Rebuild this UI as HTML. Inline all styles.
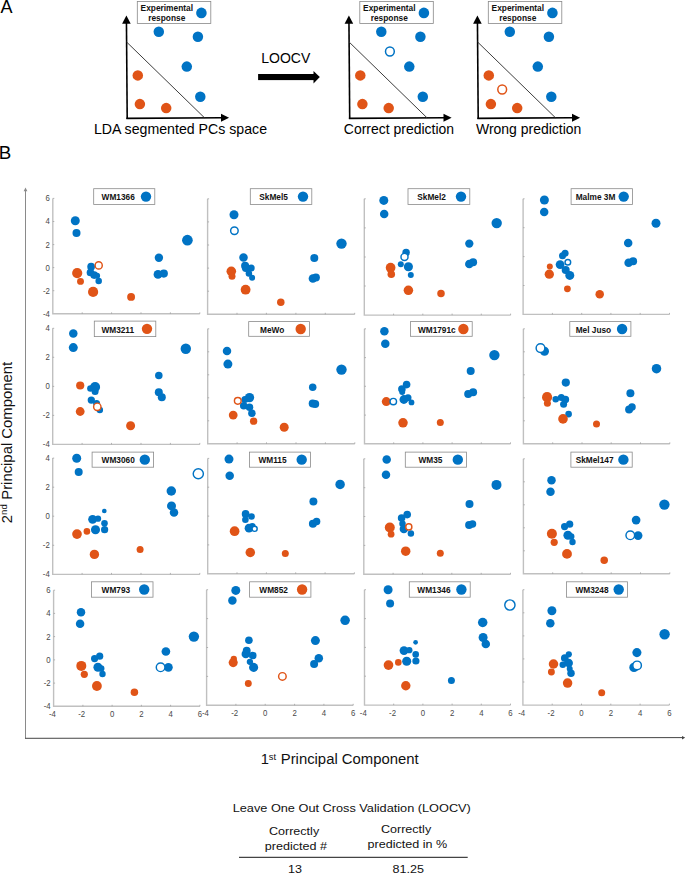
<!DOCTYPE html>
<html><head><meta charset="utf-8"><style>
html,body{margin:0;padding:0;background:#fff;}
svg{display:block;font-family:"Liberation Sans", sans-serif;}
</style></head><body>
<svg width="685" height="874" viewBox="0 0 685 874">
<rect width="685" height="874" fill="#fff"/>
<text transform="translate(0.5,13.3)" font-size="18" text-anchor="start" fill="#000">A</text>
<line x1="127.2" y1="119.1" x2="126.45" y2="22.5" stroke="#000" stroke-width="1.6"/>
<polygon points="122.1,23.7 130.7,23.7 126.4,15.4" fill="#000"/>
<line x1="126.4" y1="118.35" x2="222" y2="117.8" stroke="#000" stroke-width="1.6"/>
<polygon points="221.0,113.8 221.0,121.7 229.1,117.7" fill="#000"/>
<line x1="126.6" y1="42.0" x2="204.6" y2="117.9" stroke="#333" stroke-width="0.95"/>
<rect x="137.3" y="1.5" width="73.5" height="22" fill="#fff" stroke="#888" stroke-width="0.8"/>
<text x="166.8" y="11.2" font-size="8.35" font-weight="bold" text-anchor="middle" fill="#111">Experimental</text>
<text x="166.8" y="20.6" font-size="8.35" font-weight="bold" text-anchor="middle" fill="#111">response</text>
<circle cx="201.4" cy="12.9" r="5.30" fill="#0073C4"/>
<circle cx="158.8" cy="31.7" r="5.25" fill="#0073C4"/>
<circle cx="197.9" cy="36.8" r="5.25" fill="#0073C4"/>
<circle cx="186.8" cy="66.6" r="5.25" fill="#0073C4"/>
<circle cx="200.3" cy="96.7" r="5.25" fill="#0073C4"/>
<circle cx="137.8" cy="75.4" r="5.25" fill="#E05417"/>
<circle cx="139.9" cy="104.1" r="5.25" fill="#E05417"/>
<circle cx="166.2" cy="108.1" r="5.25" fill="#E05417"/>
<line x1="349.7" y1="119.1" x2="348.95" y2="22.5" stroke="#000" stroke-width="1.6"/>
<polygon points="344.6,23.7 353.2,23.7 348.9,15.4" fill="#000"/>
<line x1="348.9" y1="118.35" x2="444.5" y2="117.8" stroke="#000" stroke-width="1.6"/>
<polygon points="443.5,113.8 443.5,121.7 451.6,117.7" fill="#000"/>
<line x1="349.1" y1="42.0" x2="427.1" y2="117.9" stroke="#333" stroke-width="0.95"/>
<rect x="359.8" y="1.5" width="73.5" height="22" fill="#fff" stroke="#888" stroke-width="0.8"/>
<text x="389.3" y="11.2" font-size="8.35" font-weight="bold" text-anchor="middle" fill="#111">Experimental</text>
<text x="389.3" y="20.6" font-size="8.35" font-weight="bold" text-anchor="middle" fill="#111">response</text>
<circle cx="423.9" cy="12.9" r="5.30" fill="#0073C4"/>
<circle cx="381.3" cy="31.7" r="5.25" fill="#0073C4"/>
<circle cx="420.4" cy="36.8" r="5.25" fill="#0073C4"/>
<circle cx="409.3" cy="66.6" r="5.25" fill="#0073C4"/>
<circle cx="422.8" cy="96.7" r="5.25" fill="#0073C4"/>
<circle cx="360.3" cy="75.4" r="5.25" fill="#E05417"/>
<circle cx="362.4" cy="104.1" r="5.25" fill="#E05417"/>
<circle cx="388.7" cy="108.1" r="5.25" fill="#E05417"/>
<circle cx="389.9" cy="51.5" r="4.40" fill="#fff" stroke="#0073C4" stroke-width="1.5"/>
<line x1="478.2" y1="119.1" x2="477.45" y2="22.5" stroke="#000" stroke-width="1.6"/>
<polygon points="473.1,23.7 481.7,23.7 477.4,15.4" fill="#000"/>
<line x1="477.4" y1="118.35" x2="573.0" y2="117.8" stroke="#000" stroke-width="1.6"/>
<polygon points="572.0,113.8 572.0,121.7 580.1,117.7" fill="#000"/>
<line x1="477.6" y1="42.0" x2="555.6" y2="117.9" stroke="#333" stroke-width="0.95"/>
<rect x="488.3" y="1.5" width="73.5" height="22" fill="#fff" stroke="#888" stroke-width="0.8"/>
<text x="517.8" y="11.2" font-size="8.35" font-weight="bold" text-anchor="middle" fill="#111">Experimental</text>
<text x="517.8" y="20.6" font-size="8.35" font-weight="bold" text-anchor="middle" fill="#111">response</text>
<circle cx="552.4" cy="12.9" r="5.30" fill="#0073C4"/>
<circle cx="509.8" cy="31.7" r="5.25" fill="#0073C4"/>
<circle cx="548.9" cy="36.8" r="5.25" fill="#0073C4"/>
<circle cx="537.8" cy="66.6" r="5.25" fill="#0073C4"/>
<circle cx="551.3" cy="96.7" r="5.25" fill="#0073C4"/>
<circle cx="488.8" cy="75.4" r="5.25" fill="#E05417"/>
<circle cx="490.9" cy="104.1" r="5.25" fill="#E05417"/>
<circle cx="517.2" cy="108.1" r="5.25" fill="#E05417"/>
<circle cx="502.2" cy="89.5" r="4.40" fill="#fff" stroke="#E05417" stroke-width="1.5"/>
<text transform="translate(180.45,133.9) scale(1.027,1)" font-size="13.8" text-anchor="middle" fill="#000">LDA segmented PCs space</text>
<text transform="translate(398.95,133.9) scale(1.013,1)" font-size="13.8" text-anchor="middle" fill="#000">Correct prediction</text>
<text transform="translate(528.65,133.9) scale(1.012,1)" font-size="13.8" text-anchor="middle" fill="#000">Wrong prediction</text>
<text transform="translate(285.7,63.1)" font-size="14" text-anchor="middle" fill="#000">LOOCV</text>
<rect x="258.1" y="74" width="56" height="6.1" fill="#000"/>
<polygon points="313.5,71.1 313.5,83.4 319.8,77.05" fill="#000"/>
<text transform="translate(-1.2,158.9)" font-size="18.8" text-anchor="start" fill="#000">B</text>
<line x1="25.5" y1="190" x2="25.5" y2="738.3" stroke="#8a8a8a" stroke-width="1"/>
<polygon points="23.6,191.2 27.4,191.2 25.5,187.6" fill="#8a8a8a"/>
<line x1="25" y1="738.3" x2="683" y2="737.6" stroke="#444" stroke-width="1"/>
<polygon points="682,735.9 682,739.5 685.2,737.7" fill="#444"/>
<text transform="translate(260.6975,764.4)" font-size="14.7" text-anchor="start" fill="#111">1</text>
<text transform="translate(268.821,759.9)" font-size="9.3" text-anchor="start" fill="#111">st</text>
<text transform="translate(280.724,764.4) scale(1.012,1)" font-size="14.7" text-anchor="start" fill="#111">Principal Component</text>
<text transform="translate(11.7,523.135) rotate(-90)" font-size="14.7" text-anchor="start" fill="#111">2</text>
<text transform="translate(6.9,514.924) rotate(-90)" font-size="9.6" text-anchor="start" fill="#111">nd</text>
<text transform="translate(11.7,499.776) rotate(-90) scale(1.012,1)" font-size="14.7" text-anchor="start" fill="#111">Principal Component</text>
<path d="M52.8,198.4 V313.8 H199.8" fill="none" stroke="#c0c0c0" stroke-width="1.4"/>
<line x1="82.2" y1="313.8" x2="82.2" y2="312.3" stroke="#999" stroke-width="0.7"/>
<line x1="111.6" y1="313.8" x2="111.6" y2="312.3" stroke="#999" stroke-width="0.7"/>
<line x1="141.0" y1="313.8" x2="141.0" y2="312.3" stroke="#999" stroke-width="0.7"/>
<line x1="170.4" y1="313.8" x2="170.4" y2="312.3" stroke="#999" stroke-width="0.7"/>
<line x1="199.8" y1="313.8" x2="199.8" y2="312.3" stroke="#999" stroke-width="0.7"/>
<line x1="52.8" y1="198.4" x2="54.3" y2="198.4" stroke="#999" stroke-width="0.7"/>
<line x1="52.8" y1="221.5" x2="54.3" y2="221.5" stroke="#999" stroke-width="0.7"/>
<line x1="52.8" y1="244.6" x2="54.3" y2="244.6" stroke="#999" stroke-width="0.7"/>
<line x1="52.8" y1="267.6" x2="54.3" y2="267.6" stroke="#999" stroke-width="0.7"/>
<line x1="52.8" y1="290.7" x2="54.3" y2="290.7" stroke="#999" stroke-width="0.7"/>
<text transform="translate(49.9,201.4) scale(0.92,1)" font-size="8.5" text-anchor="end" fill="#484848">6</text>
<text transform="translate(49.9,224.48) scale(0.92,1)" font-size="8.5" text-anchor="end" fill="#484848">4</text>
<text transform="translate(49.9,247.56) scale(0.92,1)" font-size="8.5" text-anchor="end" fill="#484848">2</text>
<text transform="translate(49.9,270.64) scale(0.92,1)" font-size="8.5" text-anchor="end" fill="#484848">0</text>
<text transform="translate(49.9,293.72) scale(0.92,1)" font-size="8.5" text-anchor="end" fill="#484848">-2</text>
<text transform="translate(49.9,316.8) scale(0.92,1)" font-size="8.5" text-anchor="end" fill="#484848">-4</text>
<circle cx="77.2" cy="273.1" r="5.10" fill="#E05417"/>
<circle cx="80.5" cy="281.4" r="3.45" fill="#E05417"/>
<circle cx="93.1" cy="291.9" r="5.10" fill="#E05417"/>
<circle cx="131.1" cy="296.9" r="3.95" fill="#E05417"/>
<circle cx="75.3" cy="220.8" r="4.50" fill="#0073C4"/>
<circle cx="76.5" cy="233" r="4.00" fill="#0073C4"/>
<circle cx="187.4" cy="240.2" r="5.35" fill="#0073C4"/>
<circle cx="158.9" cy="257.7" r="4.20" fill="#0073C4"/>
<circle cx="158" cy="274.4" r="4.40" fill="#0073C4"/>
<circle cx="163.8" cy="273.6" r="4.10" fill="#0073C4"/>
<circle cx="91.1" cy="266.7" r="3.85" fill="#0073C4"/>
<circle cx="90.5" cy="272.5" r="3.85" fill="#0073C4"/>
<circle cx="94.2" cy="275.1" r="3.85" fill="#0073C4"/>
<circle cx="97.1" cy="275.8" r="3.00" fill="#0073C4"/>
<circle cx="98.7" cy="281.1" r="3.25" fill="#0073C4"/>
<circle cx="98.7" cy="265.4" r="3.57" fill="#fff" stroke="#E05417" stroke-width="1.45"/>
<rect x="93.7" y="188.7" width="61.1" height="15.8" fill="#fff" stroke="#8a8a8a" stroke-width="0.8"/>
<text x="101.6" y="200.1" font-size="8.3" font-weight="bold" fill="#111">WM1366</text>
<circle cx="146.0" cy="196.6" r="5.20" fill="#0073C4"/>
<path d="M207.6,198.8 V314.3 H354.7" fill="none" stroke="#c0c0c0" stroke-width="1.4"/>
<line x1="237.0" y1="314.3" x2="237.0" y2="312.8" stroke="#999" stroke-width="0.7"/>
<line x1="266.4" y1="314.3" x2="266.4" y2="312.8" stroke="#999" stroke-width="0.7"/>
<line x1="295.9" y1="314.3" x2="295.9" y2="312.8" stroke="#999" stroke-width="0.7"/>
<line x1="325.3" y1="314.3" x2="325.3" y2="312.8" stroke="#999" stroke-width="0.7"/>
<line x1="354.7" y1="314.3" x2="354.7" y2="312.8" stroke="#999" stroke-width="0.7"/>
<line x1="207.6" y1="198.8" x2="209.1" y2="198.8" stroke="#999" stroke-width="0.7"/>
<line x1="207.6" y1="221.9" x2="209.1" y2="221.9" stroke="#999" stroke-width="0.7"/>
<line x1="207.6" y1="245.0" x2="209.1" y2="245.0" stroke="#999" stroke-width="0.7"/>
<line x1="207.6" y1="268.1" x2="209.1" y2="268.1" stroke="#999" stroke-width="0.7"/>
<line x1="207.6" y1="291.2" x2="209.1" y2="291.2" stroke="#999" stroke-width="0.7"/>
<circle cx="231.3" cy="271.3" r="4.80" fill="#E05417"/>
<circle cx="232" cy="276.2" r="3.50" fill="#E05417"/>
<circle cx="245.6" cy="289.7" r="4.90" fill="#E05417"/>
<circle cx="280.8" cy="302.3" r="3.75" fill="#E05417"/>
<circle cx="234" cy="214.7" r="4.50" fill="#0073C4"/>
<circle cx="341.5" cy="243.6" r="5.20" fill="#0073C4"/>
<circle cx="314.3" cy="258.1" r="4.00" fill="#0073C4"/>
<circle cx="312.9" cy="278.5" r="4.25" fill="#0073C4"/>
<circle cx="315.9" cy="277.4" r="4.00" fill="#0073C4"/>
<circle cx="243.5" cy="257.6" r="4.25" fill="#0073C4"/>
<circle cx="245.1" cy="265.7" r="4.00" fill="#0073C4"/>
<circle cx="245.9" cy="268.1" r="4.00" fill="#0073C4"/>
<circle cx="251.2" cy="268.1" r="3.50" fill="#0073C4"/>
<circle cx="248.9" cy="273.6" r="3.25" fill="#0073C4"/>
<circle cx="252.1" cy="277.7" r="3.00" fill="#0073C4"/>
<circle cx="234.4" cy="230.7" r="3.77" fill="#fff" stroke="#0073C4" stroke-width="1.45"/>
<rect x="250.3" y="188.7" width="61.5" height="15.8" fill="#fff" stroke="#8a8a8a" stroke-width="0.8"/>
<text x="259.3" y="200.1" font-size="8.3" font-weight="bold" fill="#111">SkMel5</text>
<circle cx="303.0" cy="196.6" r="5.20" fill="#0073C4"/>
<path d="M364.3,198.8 V315.1 H510.6" fill="none" stroke="#c0c0c0" stroke-width="1.4"/>
<line x1="393.6" y1="315.1" x2="393.6" y2="313.6" stroke="#999" stroke-width="0.7"/>
<line x1="422.8" y1="315.1" x2="422.8" y2="313.6" stroke="#999" stroke-width="0.7"/>
<line x1="452.1" y1="315.1" x2="452.1" y2="313.6" stroke="#999" stroke-width="0.7"/>
<line x1="481.3" y1="315.1" x2="481.3" y2="313.6" stroke="#999" stroke-width="0.7"/>
<line x1="510.6" y1="315.1" x2="510.6" y2="313.6" stroke="#999" stroke-width="0.7"/>
<line x1="364.3" y1="198.8" x2="365.8" y2="198.8" stroke="#999" stroke-width="0.7"/>
<line x1="364.3" y1="227.9" x2="365.8" y2="227.9" stroke="#999" stroke-width="0.7"/>
<line x1="364.3" y1="257.0" x2="365.8" y2="257.0" stroke="#999" stroke-width="0.7"/>
<line x1="364.3" y1="286.0" x2="365.8" y2="286.0" stroke="#999" stroke-width="0.7"/>
<circle cx="390.6" cy="267.7" r="4.85" fill="#E05417"/>
<circle cx="391.3" cy="274.3" r="3.75" fill="#E05417"/>
<circle cx="408.4" cy="290.3" r="4.75" fill="#E05417"/>
<circle cx="441" cy="293.4" r="3.75" fill="#E05417"/>
<circle cx="383.8" cy="200.4" r="4.50" fill="#0073C4"/>
<circle cx="384.2" cy="214" r="4.25" fill="#0073C4"/>
<circle cx="496.7" cy="223.1" r="5.20" fill="#0073C4"/>
<circle cx="469.3" cy="243.6" r="4.15" fill="#0073C4"/>
<circle cx="469.3" cy="264" r="4.25" fill="#0073C4"/>
<circle cx="473.1" cy="262.2" r="4.00" fill="#0073C4"/>
<circle cx="406.1" cy="252.6" r="3.75" fill="#0073C4"/>
<circle cx="400.8" cy="264.2" r="3.00" fill="#0073C4"/>
<circle cx="408.4" cy="266.7" r="4.55" fill="#0073C4"/>
<circle cx="410.8" cy="274.9" r="3.00" fill="#0073C4"/>
<circle cx="404.5" cy="256.9" r="3.52" fill="#fff" stroke="#0073C4" stroke-width="1.45"/>
<rect x="408" y="188.7" width="61.8" height="15.8" fill="#fff" stroke="#8a8a8a" stroke-width="0.8"/>
<text x="417.3" y="200.1" font-size="8.3" font-weight="bold" fill="#111">SkMel2</text>
<circle cx="461.0" cy="196.6" r="5.20" fill="#0073C4"/>
<path d="M523.1,198.8 V314.4 H669.5" fill="none" stroke="#c0c0c0" stroke-width="1.4"/>
<line x1="552.4" y1="314.4" x2="552.4" y2="312.9" stroke="#999" stroke-width="0.7"/>
<line x1="581.7" y1="314.4" x2="581.7" y2="312.9" stroke="#999" stroke-width="0.7"/>
<line x1="610.9" y1="314.4" x2="610.9" y2="312.9" stroke="#999" stroke-width="0.7"/>
<line x1="640.2" y1="314.4" x2="640.2" y2="312.9" stroke="#999" stroke-width="0.7"/>
<line x1="669.5" y1="314.4" x2="669.5" y2="312.9" stroke="#999" stroke-width="0.7"/>
<line x1="523.1" y1="198.8" x2="524.6" y2="198.8" stroke="#999" stroke-width="0.7"/>
<line x1="523.1" y1="227.7" x2="524.6" y2="227.7" stroke="#999" stroke-width="0.7"/>
<line x1="523.1" y1="256.6" x2="524.6" y2="256.6" stroke="#999" stroke-width="0.7"/>
<line x1="523.1" y1="285.5" x2="524.6" y2="285.5" stroke="#999" stroke-width="0.7"/>
<circle cx="549.8" cy="266.5" r="3.00" fill="#E05417"/>
<circle cx="549.3" cy="274.2" r="4.65" fill="#E05417"/>
<circle cx="567.4" cy="288.8" r="3.40" fill="#E05417"/>
<circle cx="599.7" cy="294.3" r="4.25" fill="#E05417"/>
<circle cx="544.4" cy="200" r="4.50" fill="#0073C4"/>
<circle cx="544.2" cy="212" r="4.25" fill="#0073C4"/>
<circle cx="656" cy="223.3" r="4.50" fill="#0073C4"/>
<circle cx="628.2" cy="243" r="4.25" fill="#0073C4"/>
<circle cx="628.6" cy="262.7" r="4.25" fill="#0073C4"/>
<circle cx="633.1" cy="261.3" r="4.00" fill="#0073C4"/>
<circle cx="565.1" cy="253.2" r="3.50" fill="#0073C4"/>
<circle cx="562.5" cy="255.8" r="3.50" fill="#0073C4"/>
<circle cx="560.1" cy="264.6" r="4.40" fill="#0073C4"/>
<circle cx="565.7" cy="270.1" r="4.00" fill="#0073C4"/>
<circle cx="569.8" cy="275.4" r="4.50" fill="#0073C4"/>
<circle cx="567.85" cy="262.25" r="2.82" fill="#fff" stroke="#0073C4" stroke-width="1.45"/>
<rect x="571.1" y="188.7" width="61.4" height="15.8" fill="#fff" stroke="#8a8a8a" stroke-width="0.8"/>
<text x="575.7" y="200.1" font-size="8.3" font-weight="bold" fill="#111">Malme 3M</text>
<circle cx="623.7" cy="196.6" r="5.20" fill="#0073C4"/>
<path d="M52.7,328.3 V444.4 H199.8" fill="none" stroke="#c0c0c0" stroke-width="1.4"/>
<line x1="82.1" y1="444.4" x2="82.1" y2="442.9" stroke="#999" stroke-width="0.7"/>
<line x1="111.5" y1="444.4" x2="111.5" y2="442.9" stroke="#999" stroke-width="0.7"/>
<line x1="141.0" y1="444.4" x2="141.0" y2="442.9" stroke="#999" stroke-width="0.7"/>
<line x1="170.4" y1="444.4" x2="170.4" y2="442.9" stroke="#999" stroke-width="0.7"/>
<line x1="199.8" y1="444.4" x2="199.8" y2="442.9" stroke="#999" stroke-width="0.7"/>
<line x1="52.7" y1="328.3" x2="54.2" y2="328.3" stroke="#999" stroke-width="0.7"/>
<line x1="52.7" y1="357.3" x2="54.2" y2="357.3" stroke="#999" stroke-width="0.7"/>
<line x1="52.7" y1="386.4" x2="54.2" y2="386.4" stroke="#999" stroke-width="0.7"/>
<line x1="52.7" y1="415.4" x2="54.2" y2="415.4" stroke="#999" stroke-width="0.7"/>
<text transform="translate(49.8,331.3) scale(0.92,1)" font-size="8.5" text-anchor="end" fill="#484848">4</text>
<text transform="translate(49.8,360.32) scale(0.92,1)" font-size="8.5" text-anchor="end" fill="#484848">2</text>
<text transform="translate(49.8,389.35) scale(0.92,1)" font-size="8.5" text-anchor="end" fill="#484848">0</text>
<text transform="translate(49.8,418.38) scale(0.92,1)" font-size="8.5" text-anchor="end" fill="#484848">-2</text>
<text transform="translate(49.8,447.4) scale(0.92,1)" font-size="8.5" text-anchor="end" fill="#484848">-4</text>
<circle cx="80.2" cy="385.5" r="4.10" fill="#E05417"/>
<circle cx="80.2" cy="411.5" r="4.40" fill="#E05417"/>
<circle cx="130.6" cy="425.7" r="4.50" fill="#E05417"/>
<circle cx="73.3" cy="333.6" r="4.25" fill="#0073C4"/>
<circle cx="73.3" cy="347.6" r="4.50" fill="#0073C4"/>
<circle cx="185.8" cy="348.8" r="5.20" fill="#0073C4"/>
<circle cx="158.8" cy="375.5" r="3.75" fill="#0073C4"/>
<circle cx="158.8" cy="392.2" r="4.00" fill="#0073C4"/>
<circle cx="161.8" cy="397.2" r="4.00" fill="#0073C4"/>
<circle cx="95.1" cy="387" r="5.00" fill="#0073C4"/>
<circle cx="90.4" cy="388.4" r="3.25" fill="#0073C4"/>
<circle cx="95.1" cy="391.4" r="3.50" fill="#0073C4"/>
<circle cx="91.3" cy="400.1" r="3.65" fill="#0073C4"/>
<circle cx="96.6" cy="403.6" r="3.50" fill="#0073C4"/>
<circle cx="99.8" cy="410" r="3.25" fill="#0073C4"/>
<circle cx="97.3" cy="406.8" r="3.68" fill="#fff" stroke="#E05417" stroke-width="1.45"/>
<rect x="94.3" y="321.1" width="61.5" height="15.5" fill="#fff" stroke="#8a8a8a" stroke-width="0.8"/>
<text x="101.4" y="332.6" font-size="8.3" font-weight="bold" fill="#111">WM3211</text>
<circle cx="147.0" cy="328.85" r="5.20" fill="#E05417"/>
<path d="M207.7,328.8 V443.8 H354.8" fill="none" stroke="#c0c0c0" stroke-width="1.4"/>
<line x1="237.1" y1="443.8" x2="237.1" y2="442.3" stroke="#999" stroke-width="0.7"/>
<line x1="266.5" y1="443.8" x2="266.5" y2="442.3" stroke="#999" stroke-width="0.7"/>
<line x1="296.0" y1="443.8" x2="296.0" y2="442.3" stroke="#999" stroke-width="0.7"/>
<line x1="325.4" y1="443.8" x2="325.4" y2="442.3" stroke="#999" stroke-width="0.7"/>
<line x1="354.8" y1="443.8" x2="354.8" y2="442.3" stroke="#999" stroke-width="0.7"/>
<line x1="207.7" y1="328.8" x2="209.2" y2="328.8" stroke="#999" stroke-width="0.7"/>
<line x1="207.7" y1="351.8" x2="209.2" y2="351.8" stroke="#999" stroke-width="0.7"/>
<line x1="207.7" y1="374.8" x2="209.2" y2="374.8" stroke="#999" stroke-width="0.7"/>
<line x1="207.7" y1="397.8" x2="209.2" y2="397.8" stroke="#999" stroke-width="0.7"/>
<line x1="207.7" y1="420.8" x2="209.2" y2="420.8" stroke="#999" stroke-width="0.7"/>
<circle cx="233.2" cy="415.1" r="4.40" fill="#E05417"/>
<circle cx="253.6" cy="421.2" r="3.65" fill="#E05417"/>
<circle cx="284.2" cy="427.3" r="4.50" fill="#E05417"/>
<circle cx="227" cy="351" r="4.25" fill="#0073C4"/>
<circle cx="227.9" cy="364.1" r="4.50" fill="#0073C4"/>
<circle cx="341.5" cy="369.6" r="5.20" fill="#0073C4"/>
<circle cx="312.7" cy="387.2" r="3.75" fill="#0073C4"/>
<circle cx="312.7" cy="403.5" r="4.00" fill="#0073C4"/>
<circle cx="315.2" cy="404" r="4.00" fill="#0073C4"/>
<circle cx="249.5" cy="397.6" r="4.65" fill="#0073C4"/>
<circle cx="244.9" cy="399.6" r="3.50" fill="#0073C4"/>
<circle cx="243.7" cy="405.7" r="3.75" fill="#0073C4"/>
<circle cx="249.5" cy="407.2" r="3.75" fill="#0073C4"/>
<circle cx="251.9" cy="413.3" r="3.75" fill="#0073C4"/>
<circle cx="237.8" cy="400.8" r="3.37" fill="#fff" stroke="#E05417" stroke-width="1.45"/>
<rect x="248.7" y="321.6" width="60.8" height="14.7" fill="#fff" stroke="#8a8a8a" stroke-width="0.8"/>
<text x="260" y="332.6" font-size="8.3" font-weight="bold" fill="#111">MeWo</text>
<circle cx="300.7" cy="328.95000000000005" r="5.20" fill="#E05417"/>
<path d="M364.5,328.8 V443.8 H510.5" fill="none" stroke="#c0c0c0" stroke-width="1.4"/>
<line x1="393.7" y1="443.8" x2="393.7" y2="442.3" stroke="#999" stroke-width="0.7"/>
<line x1="422.9" y1="443.8" x2="422.9" y2="442.3" stroke="#999" stroke-width="0.7"/>
<line x1="452.1" y1="443.8" x2="452.1" y2="442.3" stroke="#999" stroke-width="0.7"/>
<line x1="481.3" y1="443.8" x2="481.3" y2="442.3" stroke="#999" stroke-width="0.7"/>
<line x1="510.5" y1="443.8" x2="510.5" y2="442.3" stroke="#999" stroke-width="0.7"/>
<line x1="364.5" y1="328.8" x2="366.0" y2="328.8" stroke="#999" stroke-width="0.7"/>
<line x1="364.5" y1="357.6" x2="366.0" y2="357.6" stroke="#999" stroke-width="0.7"/>
<line x1="364.5" y1="386.3" x2="366.0" y2="386.3" stroke="#999" stroke-width="0.7"/>
<line x1="364.5" y1="415.1" x2="366.0" y2="415.1" stroke="#999" stroke-width="0.7"/>
<circle cx="386.3" cy="401.6" r="4.50" fill="#E05417"/>
<circle cx="403" cy="422.8" r="4.75" fill="#E05417"/>
<circle cx="440.3" cy="422.5" r="3.50" fill="#E05417"/>
<circle cx="384.4" cy="331.3" r="4.25" fill="#0073C4"/>
<circle cx="385.3" cy="343.8" r="4.25" fill="#0073C4"/>
<circle cx="494.4" cy="355.1" r="5.20" fill="#0073C4"/>
<circle cx="470.7" cy="370.9" r="4.00" fill="#0073C4"/>
<circle cx="468.2" cy="394" r="4.00" fill="#0073C4"/>
<circle cx="473.1" cy="392.2" r="4.00" fill="#0073C4"/>
<circle cx="406.6" cy="384.6" r="3.80" fill="#0073C4"/>
<circle cx="401.9" cy="389" r="3.80" fill="#0073C4"/>
<circle cx="402.2" cy="391.9" r="3.00" fill="#0073C4"/>
<circle cx="403.9" cy="399.5" r="4.40" fill="#0073C4"/>
<circle cx="408" cy="397.8" r="3.50" fill="#0073C4"/>
<circle cx="411.5" cy="402.4" r="2.90" fill="#0073C4"/>
<circle cx="393.3" cy="401.6" r="3.23" fill="#fff" stroke="#0073C4" stroke-width="1.45"/>
<rect x="410.5" y="321.6" width="61.7" height="14.7" fill="#fff" stroke="#8a8a8a" stroke-width="0.8"/>
<text x="417.9" y="332.6" font-size="8.3" font-weight="bold" fill="#111">WM1791c</text>
<circle cx="463.4" cy="328.95000000000005" r="5.20" fill="#E05417"/>
<path d="M523.4,328.8 V443.8 H669.8" fill="none" stroke="#c0c0c0" stroke-width="1.4"/>
<line x1="552.7" y1="443.8" x2="552.7" y2="442.3" stroke="#999" stroke-width="0.7"/>
<line x1="582.0" y1="443.8" x2="582.0" y2="442.3" stroke="#999" stroke-width="0.7"/>
<line x1="611.2" y1="443.8" x2="611.2" y2="442.3" stroke="#999" stroke-width="0.7"/>
<line x1="640.5" y1="443.8" x2="640.5" y2="442.3" stroke="#999" stroke-width="0.7"/>
<line x1="669.8" y1="443.8" x2="669.8" y2="442.3" stroke="#999" stroke-width="0.7"/>
<line x1="523.4" y1="328.8" x2="524.9" y2="328.8" stroke="#999" stroke-width="0.7"/>
<line x1="523.4" y1="351.8" x2="524.9" y2="351.8" stroke="#999" stroke-width="0.7"/>
<line x1="523.4" y1="374.8" x2="524.9" y2="374.8" stroke="#999" stroke-width="0.7"/>
<line x1="523.4" y1="397.8" x2="524.9" y2="397.8" stroke="#999" stroke-width="0.7"/>
<line x1="523.4" y1="420.8" x2="524.9" y2="420.8" stroke="#999" stroke-width="0.7"/>
<circle cx="547.1" cy="397.2" r="5.10" fill="#E05417"/>
<circle cx="547.4" cy="403.3" r="3.50" fill="#E05417"/>
<circle cx="596.5" cy="423.9" r="3.50" fill="#E05417"/>
<circle cx="544.5" cy="351.3" r="4.50" fill="#0073C4"/>
<circle cx="656.5" cy="368.7" r="4.75" fill="#0073C4"/>
<circle cx="565.8" cy="382.6" r="4.10" fill="#0073C4"/>
<circle cx="630.4" cy="393.3" r="4.00" fill="#0073C4"/>
<circle cx="629.1" cy="409.6" r="4.00" fill="#0073C4"/>
<circle cx="632" cy="406.9" r="3.75" fill="#0073C4"/>
<circle cx="555.7" cy="399.2" r="3.25" fill="#0073C4"/>
<circle cx="561.3" cy="397.5" r="3.50" fill="#0073C4"/>
<circle cx="565.4" cy="399.5" r="3.75" fill="#0073C4"/>
<circle cx="563.6" cy="404.2" r="3.50" fill="#0073C4"/>
<circle cx="568.6" cy="414.1" r="3.35" fill="#0073C4"/>
<circle cx="540.5" cy="348.1" r="4.38" fill="#fff" stroke="#0073C4" stroke-width="1.45"/>
<circle cx="563" cy="418.9" r="4.80" fill="#E05417"/>
<rect x="569.8" y="321.6" width="61.1" height="14.7" fill="#fff" stroke="#8a8a8a" stroke-width="0.8"/>
<text x="575.7" y="332.6" font-size="8.3" font-weight="bold" fill="#111">Mel Juso</text>
<circle cx="622.1" cy="328.95000000000005" r="5.20" fill="#0073C4"/>
<path d="M52.7,458.1 V574.4 H199.8" fill="none" stroke="#c0c0c0" stroke-width="1.4"/>
<line x1="82.1" y1="574.4" x2="82.1" y2="572.9" stroke="#999" stroke-width="0.7"/>
<line x1="111.5" y1="574.4" x2="111.5" y2="572.9" stroke="#999" stroke-width="0.7"/>
<line x1="141.0" y1="574.4" x2="141.0" y2="572.9" stroke="#999" stroke-width="0.7"/>
<line x1="170.4" y1="574.4" x2="170.4" y2="572.9" stroke="#999" stroke-width="0.7"/>
<line x1="199.8" y1="574.4" x2="199.8" y2="572.9" stroke="#999" stroke-width="0.7"/>
<line x1="52.7" y1="458.1" x2="54.2" y2="458.1" stroke="#999" stroke-width="0.7"/>
<line x1="52.7" y1="487.2" x2="54.2" y2="487.2" stroke="#999" stroke-width="0.7"/>
<line x1="52.7" y1="516.2" x2="54.2" y2="516.2" stroke="#999" stroke-width="0.7"/>
<line x1="52.7" y1="545.3" x2="54.2" y2="545.3" stroke="#999" stroke-width="0.7"/>
<text transform="translate(49.8,461.1) scale(0.92,1)" font-size="8.5" text-anchor="end" fill="#484848">4</text>
<text transform="translate(49.8,490.18) scale(0.92,1)" font-size="8.5" text-anchor="end" fill="#484848">2</text>
<text transform="translate(49.8,519.25) scale(0.92,1)" font-size="8.5" text-anchor="end" fill="#484848">0</text>
<text transform="translate(49.8,548.33) scale(0.92,1)" font-size="8.5" text-anchor="end" fill="#484848">-2</text>
<text transform="translate(49.8,577.4) scale(0.92,1)" font-size="8.5" text-anchor="end" fill="#484848">-4</text>
<circle cx="77" cy="534.1" r="4.85" fill="#E05417"/>
<circle cx="86.9" cy="531.4" r="3.30" fill="#E05417"/>
<circle cx="94.4" cy="554.4" r="4.70" fill="#E05417"/>
<circle cx="140.1" cy="549.4" r="3.50" fill="#E05417"/>
<circle cx="76.7" cy="458.2" r="4.50" fill="#0073C4"/>
<circle cx="78.7" cy="472" r="4.00" fill="#0073C4"/>
<circle cx="171.3" cy="491" r="4.75" fill="#0073C4"/>
<circle cx="171.5" cy="505.9" r="4.50" fill="#0073C4"/>
<circle cx="174" cy="512.5" r="4.25" fill="#0073C4"/>
<circle cx="104.3" cy="511" r="2.35" fill="#0073C4"/>
<circle cx="92.6" cy="519.3" r="4.40" fill="#0073C4"/>
<circle cx="98" cy="518.7" r="3.15" fill="#0073C4"/>
<circle cx="104.5" cy="523.2" r="3.30" fill="#0073C4"/>
<circle cx="95.5" cy="529.8" r="4.55" fill="#0073C4"/>
<circle cx="104.6" cy="529.7" r="3.60" fill="#0073C4"/>
<circle cx="198.3" cy="473.75" r="5.08" fill="#fff" stroke="#0073C4" stroke-width="1.45"/>
<rect x="92.1" y="452.1" width="61.5" height="15.1" fill="#fff" stroke="#8a8a8a" stroke-width="0.8"/>
<text x="101.6" y="463.2" font-size="8.3" font-weight="bold" fill="#111">WM3060</text>
<circle cx="144.79999999999998" cy="459.65" r="5.20" fill="#0073C4"/>
<path d="M207.7,458.4 V573.8 H354.4" fill="none" stroke="#c0c0c0" stroke-width="1.4"/>
<line x1="237.0" y1="573.8" x2="237.0" y2="572.3" stroke="#999" stroke-width="0.7"/>
<line x1="266.4" y1="573.8" x2="266.4" y2="572.3" stroke="#999" stroke-width="0.7"/>
<line x1="295.7" y1="573.8" x2="295.7" y2="572.3" stroke="#999" stroke-width="0.7"/>
<line x1="325.1" y1="573.8" x2="325.1" y2="572.3" stroke="#999" stroke-width="0.7"/>
<line x1="354.4" y1="573.8" x2="354.4" y2="572.3" stroke="#999" stroke-width="0.7"/>
<line x1="207.7" y1="458.4" x2="209.2" y2="458.4" stroke="#999" stroke-width="0.7"/>
<line x1="207.7" y1="487.2" x2="209.2" y2="487.2" stroke="#999" stroke-width="0.7"/>
<line x1="207.7" y1="516.1" x2="209.2" y2="516.1" stroke="#999" stroke-width="0.7"/>
<line x1="207.7" y1="544.9" x2="209.2" y2="544.9" stroke="#999" stroke-width="0.7"/>
<circle cx="234.6" cy="531.2" r="4.85" fill="#E05417"/>
<circle cx="250.3" cy="552.5" r="4.75" fill="#E05417"/>
<circle cx="285.3" cy="553.4" r="3.50" fill="#E05417"/>
<circle cx="229" cy="459.1" r="4.50" fill="#0073C4"/>
<circle cx="229.7" cy="475.8" r="4.25" fill="#0073C4"/>
<circle cx="340.1" cy="484.4" r="4.75" fill="#0073C4"/>
<circle cx="313.4" cy="501.4" r="4.00" fill="#0073C4"/>
<circle cx="312.9" cy="523.8" r="4.00" fill="#0073C4"/>
<circle cx="316.6" cy="521.5" r="3.75" fill="#0073C4"/>
<circle cx="245.6" cy="513.9" r="3.85" fill="#0073C4"/>
<circle cx="251.5" cy="516.5" r="3.30" fill="#0073C4"/>
<circle cx="245.4" cy="519.8" r="3.30" fill="#0073C4"/>
<circle cx="249" cy="528.2" r="4.35" fill="#0073C4"/>
<circle cx="252.3" cy="526.5" r="3.50" fill="#0073C4"/>
<circle cx="254.6" cy="528.8" r="2.57" fill="#fff" stroke="#0073C4" stroke-width="1.45"/>
<rect x="249.4" y="452.1" width="61.1" height="15.1" fill="#fff" stroke="#8a8a8a" stroke-width="0.8"/>
<text x="258.4" y="463.2" font-size="8.3" font-weight="bold" fill="#111">WM115</text>
<circle cx="301.7" cy="459.65" r="5.20" fill="#0073C4"/>
<path d="M363.8,458.8 V574.3 H510.5" fill="none" stroke="#c0c0c0" stroke-width="1.4"/>
<line x1="393.1" y1="574.3" x2="393.1" y2="572.8" stroke="#999" stroke-width="0.7"/>
<line x1="422.5" y1="574.3" x2="422.5" y2="572.8" stroke="#999" stroke-width="0.7"/>
<line x1="451.8" y1="574.3" x2="451.8" y2="572.8" stroke="#999" stroke-width="0.7"/>
<line x1="481.2" y1="574.3" x2="481.2" y2="572.8" stroke="#999" stroke-width="0.7"/>
<line x1="510.5" y1="574.3" x2="510.5" y2="572.8" stroke="#999" stroke-width="0.7"/>
<line x1="363.8" y1="458.8" x2="365.3" y2="458.8" stroke="#999" stroke-width="0.7"/>
<line x1="363.8" y1="487.7" x2="365.3" y2="487.7" stroke="#999" stroke-width="0.7"/>
<line x1="363.8" y1="516.5" x2="365.3" y2="516.5" stroke="#999" stroke-width="0.7"/>
<line x1="363.8" y1="545.4" x2="365.3" y2="545.4" stroke="#999" stroke-width="0.7"/>
<circle cx="389.8" cy="527.5" r="5.00" fill="#E05417"/>
<circle cx="391.1" cy="534.2" r="3.40" fill="#E05417"/>
<circle cx="405.7" cy="551.2" r="4.75" fill="#E05417"/>
<circle cx="440.3" cy="553.2" r="3.50" fill="#E05417"/>
<circle cx="386.7" cy="459.5" r="4.25" fill="#0073C4"/>
<circle cx="386" cy="474.7" r="4.25" fill="#0073C4"/>
<circle cx="496.5" cy="484.9" r="5.00" fill="#0073C4"/>
<circle cx="469.5" cy="504.1" r="4.00" fill="#0073C4"/>
<circle cx="469.1" cy="524.9" r="4.00" fill="#0073C4"/>
<circle cx="472.5" cy="524" r="3.75" fill="#0073C4"/>
<circle cx="407.2" cy="514.6" r="3.80" fill="#0073C4"/>
<circle cx="401.6" cy="518.1" r="3.80" fill="#0073C4"/>
<circle cx="402.5" cy="523.7" r="3.25" fill="#0073C4"/>
<circle cx="403.9" cy="528.9" r="4.25" fill="#0073C4"/>
<circle cx="410.9" cy="533.5" r="3.25" fill="#0073C4"/>
<circle cx="408.8" cy="526.9" r="3.07" fill="#fff" stroke="#E05417" stroke-width="1.45"/>
<rect x="405.3" y="452.1" width="61.3" height="15.1" fill="#fff" stroke="#8a8a8a" stroke-width="0.8"/>
<text x="418.4" y="463.2" font-size="8.3" font-weight="bold" fill="#111">WM35</text>
<circle cx="457.8" cy="459.65" r="5.20" fill="#0073C4"/>
<path d="M523.4,458.8 V573.8 H669.8" fill="none" stroke="#c0c0c0" stroke-width="1.4"/>
<line x1="552.7" y1="573.8" x2="552.7" y2="572.3" stroke="#999" stroke-width="0.7"/>
<line x1="582.0" y1="573.8" x2="582.0" y2="572.3" stroke="#999" stroke-width="0.7"/>
<line x1="611.2" y1="573.8" x2="611.2" y2="572.3" stroke="#999" stroke-width="0.7"/>
<line x1="640.5" y1="573.8" x2="640.5" y2="572.3" stroke="#999" stroke-width="0.7"/>
<line x1="669.8" y1="573.8" x2="669.8" y2="572.3" stroke="#999" stroke-width="0.7"/>
<line x1="523.4" y1="458.8" x2="524.9" y2="458.8" stroke="#999" stroke-width="0.7"/>
<line x1="523.4" y1="481.8" x2="524.9" y2="481.8" stroke="#999" stroke-width="0.7"/>
<line x1="523.4" y1="504.8" x2="524.9" y2="504.8" stroke="#999" stroke-width="0.7"/>
<line x1="523.4" y1="527.8" x2="524.9" y2="527.8" stroke="#999" stroke-width="0.7"/>
<line x1="523.4" y1="550.8" x2="524.9" y2="550.8" stroke="#999" stroke-width="0.7"/>
<circle cx="551.9" cy="533.8" r="5.00" fill="#E05417"/>
<circle cx="554.2" cy="542.3" r="3.60" fill="#E05417"/>
<circle cx="567" cy="553.9" r="4.90" fill="#E05417"/>
<circle cx="604.2" cy="560.2" r="3.75" fill="#E05417"/>
<circle cx="551.5" cy="480.3" r="4.25" fill="#0073C4"/>
<circle cx="550.5" cy="491.7" r="4.25" fill="#0073C4"/>
<circle cx="664.4" cy="504.6" r="5.20" fill="#0073C4"/>
<circle cx="636.1" cy="520.1" r="4.35" fill="#0073C4"/>
<circle cx="638.1" cy="535.6" r="4.35" fill="#0073C4"/>
<circle cx="569.7" cy="524.2" r="3.60" fill="#0073C4"/>
<circle cx="564.6" cy="526.6" r="3.60" fill="#0073C4"/>
<circle cx="567.9" cy="535.3" r="4.50" fill="#0073C4"/>
<circle cx="571.2" cy="536.6" r="3.25" fill="#0073C4"/>
<circle cx="572.5" cy="542" r="3.20" fill="#0073C4"/>
<circle cx="630.3" cy="535.3" r="4.33" fill="#fff" stroke="#0073C4" stroke-width="1.45"/>
<rect x="570.9" y="452.1" width="61.3" height="15.1" fill="#fff" stroke="#8a8a8a" stroke-width="0.8"/>
<text x="575.7" y="463.2" font-size="8.3" font-weight="bold" fill="#111">SkMel147</text>
<circle cx="623.4000000000001" cy="459.65" r="5.20" fill="#0073C4"/>
<path d="M53.6,590.2 V706.3 H199.9" fill="none" stroke="#c0c0c0" stroke-width="1.4"/>
<line x1="82.9" y1="706.3" x2="82.9" y2="704.8" stroke="#999" stroke-width="0.7"/>
<line x1="112.1" y1="706.3" x2="112.1" y2="704.8" stroke="#999" stroke-width="0.7"/>
<line x1="141.4" y1="706.3" x2="141.4" y2="704.8" stroke="#999" stroke-width="0.7"/>
<line x1="170.6" y1="706.3" x2="170.6" y2="704.8" stroke="#999" stroke-width="0.7"/>
<line x1="199.9" y1="706.3" x2="199.9" y2="704.8" stroke="#999" stroke-width="0.7"/>
<line x1="53.6" y1="590.2" x2="55.1" y2="590.2" stroke="#999" stroke-width="0.7"/>
<line x1="53.6" y1="613.4" x2="55.1" y2="613.4" stroke="#999" stroke-width="0.7"/>
<line x1="53.6" y1="636.6" x2="55.1" y2="636.6" stroke="#999" stroke-width="0.7"/>
<line x1="53.6" y1="659.9" x2="55.1" y2="659.9" stroke="#999" stroke-width="0.7"/>
<line x1="53.6" y1="683.1" x2="55.1" y2="683.1" stroke="#999" stroke-width="0.7"/>
<text transform="translate(50.7,593.2) scale(0.92,1)" font-size="8.5" text-anchor="end" fill="#484848">6</text>
<text transform="translate(50.7,616.42) scale(0.92,1)" font-size="8.5" text-anchor="end" fill="#484848">4</text>
<text transform="translate(50.7,639.64) scale(0.92,1)" font-size="8.5" text-anchor="end" fill="#484848">2</text>
<text transform="translate(50.7,662.86) scale(0.92,1)" font-size="8.5" text-anchor="end" fill="#484848">0</text>
<text transform="translate(50.7,686.08) scale(0.92,1)" font-size="8.5" text-anchor="end" fill="#484848">-2</text>
<text transform="translate(50.7,709.3) scale(0.92,1)" font-size="8.5" text-anchor="end" fill="#484848">-4</text>
<text transform="translate(52.4,717.2) scale(0.92,1)" font-size="8.5" text-anchor="middle" fill="#484848">-4</text>
<text transform="translate(81.66,717.2) scale(0.92,1)" font-size="8.5" text-anchor="middle" fill="#484848">-2</text>
<text transform="translate(112.12,717.2) scale(0.92,1)" font-size="8.5" text-anchor="middle" fill="#484848">0</text>
<text transform="translate(141.38,717.2) scale(0.92,1)" font-size="8.5" text-anchor="middle" fill="#484848">2</text>
<text transform="translate(170.64,717.2) scale(0.92,1)" font-size="8.5" text-anchor="middle" fill="#484848">4</text>
<text transform="translate(199.9,717.2) scale(0.92,1)" font-size="8.5" text-anchor="middle" fill="#484848">6</text>
<circle cx="81.3" cy="665.9" r="5.00" fill="#E05417"/>
<circle cx="84.3" cy="674.3" r="3.60" fill="#E05417"/>
<circle cx="96.9" cy="686" r="4.90" fill="#E05417"/>
<circle cx="134.4" cy="692.2" r="3.75" fill="#E05417"/>
<circle cx="81" cy="612.3" r="4.25" fill="#0073C4"/>
<circle cx="80.1" cy="623.7" r="4.25" fill="#0073C4"/>
<circle cx="193.9" cy="636.6" r="5.20" fill="#0073C4"/>
<circle cx="165.9" cy="651.5" r="4.35" fill="#0073C4"/>
<circle cx="168.4" cy="667.3" r="4.35" fill="#0073C4"/>
<circle cx="99.7" cy="656.2" r="3.60" fill="#0073C4"/>
<circle cx="94.6" cy="658.6" r="3.60" fill="#0073C4"/>
<circle cx="97.9" cy="667.3" r="4.50" fill="#0073C4"/>
<circle cx="101.2" cy="668.6" r="3.25" fill="#0073C4"/>
<circle cx="102.5" cy="674" r="3.20" fill="#0073C4"/>
<circle cx="160.6" cy="667.3" r="4.33" fill="#fff" stroke="#0073C4" stroke-width="1.45"/>
<rect x="91.4" y="581.8" width="61.6" height="15.4" fill="#fff" stroke="#8a8a8a" stroke-width="0.8"/>
<text x="101.6" y="593.2" font-size="8.3" font-weight="bold" fill="#111">WM793</text>
<circle cx="144.2" cy="589.5" r="5.20" fill="#0073C4"/>
<path d="M206.6,589.7 V705.3 H353.2" fill="none" stroke="#c0c0c0" stroke-width="1.4"/>
<line x1="235.9" y1="705.3" x2="235.9" y2="703.8" stroke="#999" stroke-width="0.7"/>
<line x1="265.2" y1="705.3" x2="265.2" y2="703.8" stroke="#999" stroke-width="0.7"/>
<line x1="294.6" y1="705.3" x2="294.6" y2="703.8" stroke="#999" stroke-width="0.7"/>
<line x1="323.9" y1="705.3" x2="323.9" y2="703.8" stroke="#999" stroke-width="0.7"/>
<line x1="353.2" y1="705.3" x2="353.2" y2="703.8" stroke="#999" stroke-width="0.7"/>
<line x1="206.6" y1="589.7" x2="208.1" y2="589.7" stroke="#999" stroke-width="0.7"/>
<line x1="206.6" y1="618.6" x2="208.1" y2="618.6" stroke="#999" stroke-width="0.7"/>
<line x1="206.6" y1="647.5" x2="208.1" y2="647.5" stroke="#999" stroke-width="0.7"/>
<line x1="206.6" y1="676.4" x2="208.1" y2="676.4" stroke="#999" stroke-width="0.7"/>
<text transform="translate(205.4,716.2) scale(0.92,1)" font-size="8.5" text-anchor="middle" fill="#484848">-4</text>
<text transform="translate(234.72,716.2) scale(0.92,1)" font-size="8.5" text-anchor="middle" fill="#484848">-2</text>
<text transform="translate(265.24,716.2) scale(0.92,1)" font-size="8.5" text-anchor="middle" fill="#484848">0</text>
<text transform="translate(294.56,716.2) scale(0.92,1)" font-size="8.5" text-anchor="middle" fill="#484848">2</text>
<text transform="translate(323.88,716.2) scale(0.92,1)" font-size="8.5" text-anchor="middle" fill="#484848">4</text>
<text transform="translate(353.2,716.2) scale(0.92,1)" font-size="8.5" text-anchor="middle" fill="#484848">6</text>
<circle cx="233.8" cy="658.9" r="3.15" fill="#E05417"/>
<circle cx="233.2" cy="662.6" r="4.55" fill="#E05417"/>
<circle cx="248.3" cy="683.5" r="3.45" fill="#E05417"/>
<circle cx="235.8" cy="590.4" r="4.50" fill="#0073C4"/>
<circle cx="232.4" cy="600.6" r="4.25" fill="#0073C4"/>
<circle cx="345.1" cy="620.3" r="4.75" fill="#0073C4"/>
<circle cx="248.9" cy="640.2" r="3.80" fill="#0073C4"/>
<circle cx="315.4" cy="640.6" r="4.50" fill="#0073C4"/>
<circle cx="318.8" cy="658.3" r="4.25" fill="#0073C4"/>
<circle cx="314.1" cy="663.9" r="4.00" fill="#0073C4"/>
<circle cx="246.7" cy="650.7" r="3.95" fill="#0073C4"/>
<circle cx="245.8" cy="653.9" r="4.25" fill="#0073C4"/>
<circle cx="252.7" cy="655.5" r="3.80" fill="#0073C4"/>
<circle cx="249.9" cy="661.8" r="3.15" fill="#0073C4"/>
<circle cx="253.6" cy="667.4" r="4.55" fill="#0073C4"/>
<circle cx="282.4" cy="676.4" r="3.77" fill="#fff" stroke="#E05417" stroke-width="1.45"/>
<rect x="249.6" y="581.8" width="61.3" height="15.4" fill="#fff" stroke="#8a8a8a" stroke-width="0.8"/>
<text x="259.3" y="593.2" font-size="8.3" font-weight="bold" fill="#111">WM852</text>
<circle cx="302.09999999999997" cy="589.5" r="5.20" fill="#E05417"/>
<path d="M364.5,589.7 V705.1 H510.5" fill="none" stroke="#c0c0c0" stroke-width="1.4"/>
<line x1="393.7" y1="705.1" x2="393.7" y2="703.6" stroke="#999" stroke-width="0.7"/>
<line x1="422.9" y1="705.1" x2="422.9" y2="703.6" stroke="#999" stroke-width="0.7"/>
<line x1="452.1" y1="705.1" x2="452.1" y2="703.6" stroke="#999" stroke-width="0.7"/>
<line x1="481.3" y1="705.1" x2="481.3" y2="703.6" stroke="#999" stroke-width="0.7"/>
<line x1="510.5" y1="705.1" x2="510.5" y2="703.6" stroke="#999" stroke-width="0.7"/>
<line x1="364.5" y1="589.7" x2="366.0" y2="589.7" stroke="#999" stroke-width="0.7"/>
<line x1="364.5" y1="618.6" x2="366.0" y2="618.6" stroke="#999" stroke-width="0.7"/>
<line x1="364.5" y1="647.4" x2="366.0" y2="647.4" stroke="#999" stroke-width="0.7"/>
<line x1="364.5" y1="676.2" x2="366.0" y2="676.2" stroke="#999" stroke-width="0.7"/>
<text transform="translate(363.3,716.0) scale(0.92,1)" font-size="8.5" text-anchor="middle" fill="#484848">-4</text>
<text transform="translate(392.5,716.0) scale(0.92,1)" font-size="8.5" text-anchor="middle" fill="#484848">-2</text>
<text transform="translate(422.9,716.0) scale(0.92,1)" font-size="8.5" text-anchor="middle" fill="#484848">0</text>
<text transform="translate(452.1,716.0) scale(0.92,1)" font-size="8.5" text-anchor="middle" fill="#484848">2</text>
<text transform="translate(481.3,716.0) scale(0.92,1)" font-size="8.5" text-anchor="middle" fill="#484848">4</text>
<text transform="translate(510.5,716.0) scale(0.92,1)" font-size="8.5" text-anchor="middle" fill="#484848">6</text>
<circle cx="388.5" cy="665.1" r="4.85" fill="#E05417"/>
<circle cx="398.3" cy="662.4" r="3.30" fill="#E05417"/>
<circle cx="405.8" cy="685.7" r="4.70" fill="#E05417"/>
<circle cx="388.1" cy="589.7" r="4.50" fill="#0073C4"/>
<circle cx="390.1" cy="603.5" r="4.00" fill="#0073C4"/>
<circle cx="482.7" cy="622.5" r="4.75" fill="#0073C4"/>
<circle cx="483.1" cy="637.5" r="4.50" fill="#0073C4"/>
<circle cx="485.8" cy="644" r="4.25" fill="#0073C4"/>
<circle cx="415.6" cy="642.3" r="2.35" fill="#0073C4"/>
<circle cx="404" cy="650.6" r="4.40" fill="#0073C4"/>
<circle cx="409.3" cy="650.2" r="3.15" fill="#0073C4"/>
<circle cx="415.7" cy="654.4" r="3.30" fill="#0073C4"/>
<circle cx="406.7" cy="661.2" r="4.55" fill="#0073C4"/>
<circle cx="415.9" cy="661" r="3.60" fill="#0073C4"/>
<circle cx="451.4" cy="680.5" r="3.50" fill="#0073C4"/>
<circle cx="509.9" cy="605.0" r="5.12" fill="#fff" stroke="#0073C4" stroke-width="1.45"/>
<rect x="409.3" y="581.8" width="60.9" height="15.4" fill="#fff" stroke="#8a8a8a" stroke-width="0.8"/>
<text x="417.3" y="593.2" font-size="8.3" font-weight="bold" fill="#111">WM1346</text>
<circle cx="461.4" cy="589.5" r="5.20" fill="#0073C4"/>
<path d="M522.9,589.7 V705.1 H669.4" fill="none" stroke="#c0c0c0" stroke-width="1.4"/>
<line x1="552.2" y1="705.1" x2="552.2" y2="703.6" stroke="#999" stroke-width="0.7"/>
<line x1="581.5" y1="705.1" x2="581.5" y2="703.6" stroke="#999" stroke-width="0.7"/>
<line x1="610.8" y1="705.1" x2="610.8" y2="703.6" stroke="#999" stroke-width="0.7"/>
<line x1="640.1" y1="705.1" x2="640.1" y2="703.6" stroke="#999" stroke-width="0.7"/>
<line x1="669.4" y1="705.1" x2="669.4" y2="703.6" stroke="#999" stroke-width="0.7"/>
<line x1="522.9" y1="589.7" x2="524.4" y2="589.7" stroke="#999" stroke-width="0.7"/>
<line x1="522.9" y1="612.8" x2="524.4" y2="612.8" stroke="#999" stroke-width="0.7"/>
<line x1="522.9" y1="635.9" x2="524.4" y2="635.9" stroke="#999" stroke-width="0.7"/>
<line x1="522.9" y1="658.9" x2="524.4" y2="658.9" stroke="#999" stroke-width="0.7"/>
<line x1="522.9" y1="682.0" x2="524.4" y2="682.0" stroke="#999" stroke-width="0.7"/>
<text transform="translate(521.7,716.0) scale(0.92,1)" font-size="8.5" text-anchor="middle" fill="#484848">-4</text>
<text transform="translate(551.0,716.0) scale(0.92,1)" font-size="8.5" text-anchor="middle" fill="#484848">-2</text>
<text transform="translate(581.5,716.0) scale(0.92,1)" font-size="8.5" text-anchor="middle" fill="#484848">0</text>
<text transform="translate(610.8,716.0) scale(0.92,1)" font-size="8.5" text-anchor="middle" fill="#484848">2</text>
<text transform="translate(640.1,716.0) scale(0.92,1)" font-size="8.5" text-anchor="middle" fill="#484848">4</text>
<text transform="translate(669.4,716.0) scale(0.92,1)" font-size="8.5" text-anchor="middle" fill="#484848">6</text>
<circle cx="553.5" cy="664" r="4.75" fill="#E05417"/>
<circle cx="551.4" cy="672" r="3.45" fill="#E05417"/>
<circle cx="567.6" cy="683.1" r="4.75" fill="#E05417"/>
<circle cx="601.7" cy="692.7" r="3.50" fill="#E05417"/>
<circle cx="551.9" cy="610.8" r="4.50" fill="#0073C4"/>
<circle cx="550.3" cy="623.2" r="4.25" fill="#0073C4"/>
<circle cx="664.6" cy="634.3" r="5.20" fill="#0073C4"/>
<circle cx="636.9" cy="652.6" r="4.55" fill="#0073C4"/>
<circle cx="634" cy="667.4" r="4.70" fill="#0073C4"/>
<circle cx="568.8" cy="654.3" r="3.10" fill="#0073C4"/>
<circle cx="564.8" cy="658.1" r="3.85" fill="#0073C4"/>
<circle cx="568.7" cy="663" r="4.25" fill="#0073C4"/>
<circle cx="562.8" cy="664.8" r="3.25" fill="#0073C4"/>
<circle cx="569.7" cy="668.7" r="3.00" fill="#0073C4"/>
<circle cx="571" cy="673.3" r="3.75" fill="#0073C4"/>
<circle cx="637.1" cy="665.4" r="4.28" fill="#fff" stroke="#0073C4" stroke-width="1.45"/>
<rect x="566.6" y="581.8" width="60.9" height="15.4" fill="#fff" stroke="#8a8a8a" stroke-width="0.8"/>
<text x="575.4" y="593.2" font-size="8.3" font-weight="bold" fill="#111">WM3248</text>
<circle cx="618.7" cy="589.5" r="5.20" fill="#0073C4"/>
<text transform="translate(351.75,812.1) scale(1.08,1)" font-size="11.8" text-anchor="middle" fill="#111">Leave One Out Cross Validation (LOOCV)</text>
<text transform="translate(294.05,835.4) scale(1.065,1)" font-size="11.8" text-anchor="middle" fill="#111">Correctly</text>
<text transform="translate(295.85,850.0) scale(1.065,1)" font-size="11.8" text-anchor="middle" fill="#111">predicted #</text>
<text transform="translate(406.05,833.0) scale(1.065,1)" font-size="11.8" text-anchor="middle" fill="#111">Correctly</text>
<text transform="translate(407.3,848.4) scale(1.065,1)" font-size="11.8" text-anchor="middle" fill="#111">predicted in %</text>
<line x1="239" y1="857.3" x2="467.7" y2="857.3" stroke="#444" stroke-width="1.3"/>
<text transform="translate(295.05,873.2) scale(1.065,1)" font-size="11.8" text-anchor="middle" fill="#111">13</text>
<text transform="translate(408.25,873.2) scale(1.065,1)" font-size="11.8" text-anchor="middle" fill="#111">81.25</text>
</svg></body></html>
